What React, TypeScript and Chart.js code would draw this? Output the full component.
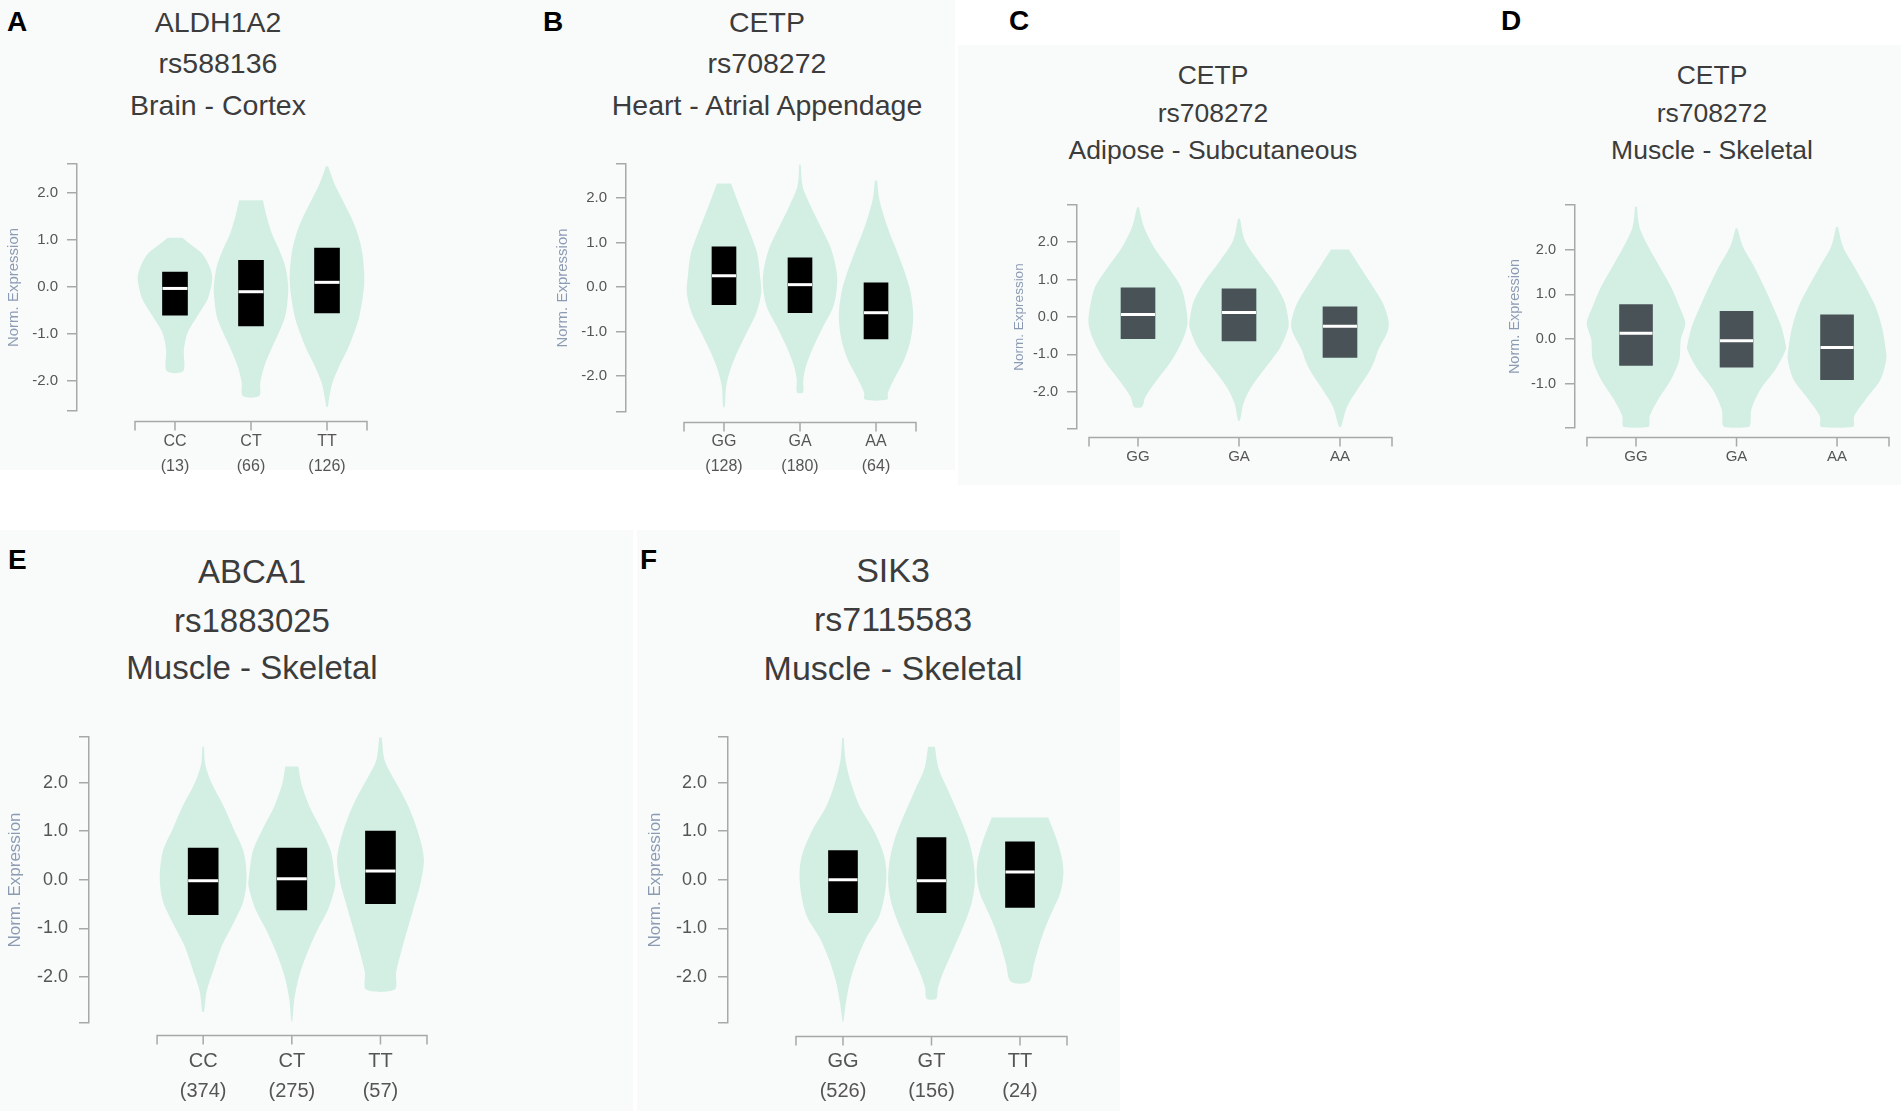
import React, { useEffect, useRef } from "react";
import { Chart, registerables } from "chart.js";

Chart.register(...registerables);

const FONT = "'Liberation Sans', Arial, Helvetica, sans-serif";
const VIOLIN_COLOR = "#d3efe4";
const AXIS_COLOR = "#a8a8a8";
const TICK_COLOR = "#555555";
const YTITLE_COLOR = "#8c9bb4";
const TITLE_COLOR = "#3c3c3c";
const PANEL_BG = "#f9fbfa";
const Y_TITLE = "Norm. Expression";

// ---------- Panel A ----------
const A_TITLE = ["ALDH1A2", "rs588136", "Brain - Cortex"];
const A_CATS = ["CC", "CT", "TT"];
const A_COUNTS = [13, 66, 126];
const A_Q1 = [-0.6, -0.83, -0.55];
const A_MED = [-0.03, -0.1, 0.1];
const A_Q3 = [0.32, 0.57, 0.83];
const A_Y_RANGE = [-2.64, 2.62];
const A_YTICKS = [-2, -1, 0, 1, 2];
// violin profiles: [expression value, relative density width]
const A_VIOLIN_CC = [[1.05, 0.2], [0.95, 0.35], [0.72, 0.72], [0.45, 0.92], [0.23, 1.0], [0.0, 0.97], [-0.27, 0.87], [-0.62, 0.6], [-0.97, 0.34], [-1.33, 0.24], [-1.79, 0.22]];
const A_VIOLIN_CT = [[1.85, 0.32], [1.5, 0.42], [1.14, 0.56], [0.79, 0.76], [0.44, 0.92], [0.0, 1.0], [-0.3, 0.98], [-0.62, 0.92], [-0.97, 0.75], [-1.33, 0.54], [-1.68, 0.36], [-2.03, 0.25], [-2.32, 0.22]];
const A_VIOLIN_TT = [[2.57, 0.03], [2.2, 0.2], [1.85, 0.42], [1.5, 0.64], [1.14, 0.82], [0.72, 0.95], [0.08, 1.0], [-0.62, 0.87], [-0.97, 0.73], [-1.33, 0.55], [-1.68, 0.33], [-2.03, 0.15], [-2.4, 0.05], [-2.55, 0.02]];

// ---------- Panel B ----------
const B_TITLE = ["CETP", "rs708272", "Heart - Atrial Appendage"];
const B_CATS = ["GG", "GA", "AA"];
const B_COUNTS = [128, 180, 64];
const B_Q1 = [-0.4, -0.58, -1.17];
const B_MED = [0.25, 0.05, -0.58];
const B_Q3 = [0.9, 0.65, 0.09];
const B_Y_RANGE = [-2.81, 2.76];
const B_YTICKS = [-2, -1, 0, 1, 2];
const B_VIOLIN_GG = [[2.32, 0.19], [1.96, 0.35], [1.59, 0.52], [1.21, 0.7], [0.76, 0.89], [0.24, 0.97], [-0.13, 1.0], [-0.58, 0.87], [-1.03, 0.61], [-1.48, 0.35], [-1.86, 0.17], [-2.23, 0.06], [-2.7, 0.02]];
const B_VIOLIN_GA = [[2.75, 0.02], [2.26, 0.07], [1.81, 0.29], [1.36, 0.55], [0.91, 0.81], [0.46, 0.96], [0.09, 1.0], [-0.43, 0.9], [-0.88, 0.63], [-1.33, 0.37], [-1.78, 0.16], [-2.08, 0.09], [-2.37, 0.08]];
const B_VIOLIN_AA = [[2.39, 0.03], [1.96, 0.09], [1.36, 0.3], [0.76, 0.58], [0.31, 0.78], [-0.13, 0.93], [-0.66, 1.0], [-1.18, 0.93], [-1.63, 0.76], [-2.08, 0.48], [-2.38, 0.32], [-2.53, 0.3]];

// ---------- Panel C ----------
const C_TITLE = ["CETP", "rs708272", "Adipose - Subcutaneous"];
const C_CATS = ["GG", "GA", "AA"];
const C_Q1 = [-0.58, -0.64, -1.08];
const C_MED = [0.07, 0.12, -0.25];
const C_Q3 = [0.78, 0.75, 0.27];
const C_Y_RANGE = [-2.99, 2.99];
const C_YTICKS = [-2, -1, 0, 1, 2];
const C_VIOLIN_GG = [[2.93, 0.02], [2.4, 0.12], [1.87, 0.32], [1.33, 0.61], [0.8, 0.87], [0.27, 0.97], [-0.18, 1.0], [-0.62, 0.9], [-1.16, 0.68], [-1.69, 0.38], [-2.13, 0.15], [-2.4, 0.08]];
const C_VIOLIN_GA = [[2.62, 0.02], [2.04, 0.12], [1.51, 0.38], [0.98, 0.68], [0.44, 0.91], [0.0, 0.99], [-0.27, 1.0], [-0.8, 0.84], [-1.33, 0.55], [-1.87, 0.25], [-2.31, 0.09], [-2.76, 0.02]];
const C_VIOLIN_AA = [[1.8, 0.18], [1.33, 0.41], [0.8, 0.67], [0.36, 0.87], [-0.09, 0.98], [-0.36, 0.97], [-0.89, 0.77], [-1.16, 0.7], [-1.51, 0.57], [-1.96, 0.34], [-2.4, 0.14], [-2.93, 0.02]];

// ---------- Panel D ----------
const D_TITLE = ["CETP", "rs708272", "Muscle - Skeletal"];
const D_CATS = ["GG", "GA", "AA"];
const D_Q1 = [-0.59, -0.63, -0.91];
const D_MED = [0.13, -0.04, -0.19];
const D_Q3 = [0.77, 0.62, 0.54];
const D_Y_RANGE = [-1.99, 3.0];
const D_YTICKS = [-1, 0, 1, 2];
const D_VIOLIN_GG = [[2.96, 0.02], [2.51, 0.07], [2.07, 0.25], [1.62, 0.48], [1.17, 0.71], [0.73, 0.88], [0.36, 1.0], [-0.01, 0.91], [-0.46, 0.88], [-0.91, 0.71], [-1.35, 0.45], [-1.72, 0.28], [-1.97, 0.25]];
const D_VIOLIN_GA = [[2.48, 0.02], [2.07, 0.13], [1.62, 0.36], [1.17, 0.56], [0.73, 0.74], [0.28, 0.91], [-0.09, 0.99], [-0.24, 1.0], [-0.68, 0.79], [-1.12, 0.49], [-1.58, 0.3], [-1.97, 0.25]];
const D_VIOLIN_AA = [[2.51, 0.02], [2.07, 0.12], [1.62, 0.35], [1.17, 0.58], [0.73, 0.78], [0.28, 0.91], [-0.24, 0.99], [-0.46, 1.0], [-0.91, 0.88], [-1.35, 0.58], [-1.72, 0.35], [-1.97, 0.32]];

// ---------- Panel E ----------
const E_TITLE = ["ABCA1", "rs1883025", "Muscle - Skeletal"];
const E_CATS = ["CC", "CT", "TT"];
const E_COUNTS = [374, 275, 57];
const E_Q1 = [-0.72, -0.62, -0.49];
const E_MED = [-0.02, 0.02, 0.18];
const E_Q3 = [0.65, 0.65, 1.0];
const E_Y_RANGE = [-2.95, 2.94];
const E_YTICKS = [-2, -1, 0, 1, 2];
const E_VIOLIN_CC = [[2.74, 0.02], [2.37, 0.05], [1.98, 0.2], [1.52, 0.47], [1.05, 0.7], [0.58, 0.93], [0.04, 1.0], [-0.43, 0.93], [-0.89, 0.7], [-1.36, 0.43], [-1.83, 0.25], [-2.3, 0.08], [-2.72, 0.02]];
const E_VIOLIN_CT = [[2.33, 0.15], [1.98, 0.22], [1.52, 0.4], [1.05, 0.67], [0.58, 0.9], [0.04, 0.99], [-0.12, 1.0], [-0.58, 0.85], [-1.05, 0.58], [-1.52, 0.35], [-1.98, 0.17], [-2.45, 0.06], [-2.92, 0.01]];
const E_VIOLIN_TT = [[2.93, 0.03], [2.45, 0.1], [1.98, 0.37], [1.52, 0.64], [0.97, 0.87], [0.43, 1.0], [-0.04, 0.93], [-0.5, 0.79], [-0.97, 0.64], [-1.44, 0.49], [-1.91, 0.36], [-2.26, 0.33]];

// ---------- Panel F ----------
const F_TITLE = ["SIK3", "rs7115583", "Muscle - Skeletal"];
const F_CATS = ["GG", "GT", "TT"];
const F_COUNTS = [526, 156, 24];
const F_Q1 = [-0.68, -0.68, -0.57];
const F_MED = [0.0, -0.02, 0.16];
const F_Q3 = [0.6, 0.87, 0.78];
const F_Y_RANGE = [-2.95, 2.94];
const F_YTICKS = [-2, -1, 0, 1, 2];
const F_VIOLIN_GG = [[2.92, 0.02], [2.45, 0.06], [1.98, 0.19], [1.52, 0.38], [1.05, 0.69], [0.58, 0.92], [0.19, 1.0], [-0.27, 0.97], [-0.74, 0.84], [-1.21, 0.53], [-1.67, 0.31], [-2.14, 0.15], [-2.53, 0.07], [-2.92, 0.01]];
const F_VIOLIN_GT = [[2.74, 0.08], [2.3, 0.16], [1.83, 0.39], [1.36, 0.62], [0.89, 0.83], [0.43, 0.96], [-0.04, 1.0], [-0.5, 0.92], [-0.97, 0.73], [-1.44, 0.5], [-1.91, 0.27], [-2.22, 0.15], [-2.45, 0.11]];
const F_VIOLIN_TT = [[1.28, 0.65], [0.82, 0.85], [0.43, 0.97], [0.12, 1.0], [-0.27, 0.93], [-0.66, 0.74], [-0.97, 0.59], [-1.36, 0.44], [-1.75, 0.32], [-2.1, 0.21]];

// ---------- layout (pixels) ----------
interface Layout {
  canvasLeft: number; canvasTop: number; canvasRight: number; canvasBottom: number;
  yAxisX: number; plotTop: number; plotBottom: number;
  xMin: number; xMax: number; axisStart: number; xGap: number;
  boxPx: number; tickSize: number; tickPad: number;
  xLabelSize: number; xLabelLH: number; xLabelPad: number; yTitleSize: number;
}
interface PanelDef {
  letter: string; letterX: number; letterY: number;
  title: string[]; titleX: number; titleYs: number[]; titleSize: number;
  cats: string[]; counts: number[] | null;
  q1: number[]; med: number[]; q3: number[];
  violins: number[][][];
  yRange: number[]; yTicks: number[];
  boxColor: string;
  L: Layout;
}

const PANELS: PanelDef[] = [
  {
    letter: "A", letterX: 7, letterY: 12, title: A_TITLE, titleX: 218, titleYs: [22, 63, 105], titleSize: 28.5,
    cats: A_CATS, counts: A_COUNTS, q1: A_Q1, med: A_MED, q3: A_Q3,
    violins: [A_VIOLIN_CC, A_VIOLIN_CT, A_VIOLIN_TT], yRange: A_Y_RANGE, yTicks: A_YTICKS, boxColor: "#000000",
    L: { canvasLeft: 2, canvasTop: 134, canvasRight: 371, canvasBottom: 492, yAxisX: 77, plotTop: 164, plotBottom: 411,
      xMin: -0.289, xMax: 3.526, axisStart: 0.474, xGap: 10, boxPx: 25, tickSize: 15, tickPad: 9,
      xLabelSize: 16, xLabelLH: 25, xLabelPad: 18.5, yTitleSize: 15 },
  },
  {
    letter: "B", letterX: 543, letterY: 12, title: B_TITLE, titleX: 767, titleYs: [22, 63, 105], titleSize: 28.5,
    cats: B_CATS, counts: B_COUNTS, q1: B_Q1, med: B_MED, q3: B_Q3,
    violins: [B_VIOLIN_GG, B_VIOLIN_GA, B_VIOLIN_AA], yRange: B_Y_RANGE, yTicks: B_YTICKS, boxColor: "#000000",
    L: { canvasLeft: 551, canvasTop: 134, canvasRight: 920, canvasBottom: 492, yAxisX: 626, plotTop: 164, plotBottom: 412,
      xMin: -0.289, xMax: 3.526, axisStart: 0.474, xGap: 10, boxPx: 24, tickSize: 15, tickPad: 9,
      xLabelSize: 16, xLabelLH: 25, xLabelPad: 17.5, yTitleSize: 15 },
  },
  {
    letter: "C", letterX: 1009, letterY: 11, title: C_TITLE, titleX: 1213, titleYs: [75, 113, 150], titleSize: 26.5,
    cats: C_CATS, counts: null, q1: C_Q1, med: C_MED, q3: C_Q3,
    violins: [C_VIOLIN_GG, C_VIOLIN_GA, C_VIOLIN_AA], yRange: C_Y_RANGE, yTicks: C_YTICKS, boxColor: "#495257",
    L: { canvasLeft: 1007, canvasTop: 175, canvasRight: 1396, canvasBottom: 482, yAxisX: 1077, plotTop: 205, plotBottom: 429,
      xMin: 0.396, xMax: 3.515, axisStart: 0.515, xGap: 8, boxPx: 34, tickSize: 14.5, tickPad: 9,
      xLabelSize: 15, xLabelLH: 18, xLabelPad: 19, yTitleSize: 13.5 },
  },
  {
    letter: "D", letterX: 1501, letterY: 11, title: D_TITLE, titleX: 1712, titleYs: [75, 113, 150], titleSize: 26.5,
    cats: D_CATS, counts: null, q1: D_Q1, med: D_MED, q3: D_Q3,
    violins: [D_VIOLIN_GG, D_VIOLIN_GA, D_VIOLIN_AA], yRange: D_Y_RANGE, yTicks: D_YTICKS, boxColor: "#495257",
    L: { canvasLeft: 1503, canvasTop: 175, canvasRight: 1893, canvasBottom: 482, yAxisX: 1575, plotTop: 205, plotBottom: 428,
      xMin: 0.393, xMax: 3.517, axisStart: 0.512, xGap: 9, boxPx: 33, tickSize: 14.5, tickPad: 9,
      xLabelSize: 15, xLabelLH: 18, xLabelPad: 20, yTitleSize: 14.5 },
  },
  {
    letter: "E", letterX: 8, letterY: 550, title: E_TITLE, titleX: 252, titleYs: [571, 620, 667], titleSize: 33,
    cats: E_CATS, counts: E_COUNTS, q1: E_Q1, med: E_MED, q3: E_Q3,
    violins: [E_VIOLIN_CC, E_VIOLIN_CT, E_VIOLIN_TT], yRange: E_Y_RANGE, yTicks: E_YTICKS, boxColor: "#000000",
    L: { canvasLeft: 3, canvasTop: 707, canvasRight: 431, canvasBottom: 1108, yAxisX: 89, plotTop: 737, plotBottom: 1023,
      xMin: -0.288, xMax: 3.525, axisStart: 0.48, xGap: 12, boxPx: 30, tickSize: 18, tickPad: 11,
      xLabelSize: 20, xLabelLH: 30, xLabelPad: 23, yTitleSize: 17 },
  },
  {
    letter: "F", letterX: 640, letterY: 550, title: F_TITLE, titleX: 893, titleYs: [570, 619, 668], titleSize: 34,
    cats: F_CATS, counts: F_COUNTS, q1: F_Q1, med: F_MED, q3: F_Q3,
    violins: [F_VIOLIN_GG, F_VIOLIN_GT, F_VIOLIN_TT], yRange: F_Y_RANGE, yTicks: F_YTICKS, boxColor: "#000000",
    L: { canvasLeft: 643, canvasTop: 707, canvasRight: 1071, canvasBottom: 1108, yAxisX: 728, plotTop: 737, plotBottom: 1023,
      xMin: -0.299, xMax: 3.531, axisStart: 0.469, xGap: 13, boxPx: 29, tickSize: 18, tickPad: 11,
      xLabelSize: 20, xLabelLH: 30, xLabelPad: 23, yTitleSize: 17 },
  },
];

const BG_RECTS = [
  [0, 0, 955, 470],
  [958, 45, 943, 440],
  [0, 530, 633, 581],
  [637, 530, 483, 581],
];

const VIOLIN_HALF = 0.49;

const xAxisLinePlugin = {
  id: "xAxisLine",
  afterDraw(chart: any, _args: any, opts: any) {
    const { ctx, chartArea } = chart;
    const x = chart.scales.x;
    const y0 = Math.round(chartArea.bottom + opts.gap) + 0.5;
    const xs = x.getPixelForValue(opts.start);
    const xe = x.getPixelForValue(opts.end);
    ctx.save();
    ctx.strokeStyle = AXIS_COLOR;
    ctx.lineWidth = 1.5;
    ctx.beginPath();
    ctx.moveTo(xs, y0 + opts.len);
    ctx.lineTo(xs, y0);
    ctx.lineTo(xe, y0);
    ctx.lineTo(xe, y0 + opts.len);
    for (const v of opts.ticks) {
      const px = x.getPixelForValue(v);
      ctx.moveTo(px, y0);
      ctx.lineTo(px, y0 + opts.len);
    }
    ctx.stroke();
    ctx.restore();
  },
};

function buildConfig(p: PanelDef): any {
  const L = p.L;
  const catIdx = p.cats.map((_, i) => i + 1);
  const datasets: any[] = [];
  p.violins.forEach((prof, i) => {
    const c = i + 1;
    const right = prof.map(([v, w]) => ({ x: c + w * VIOLIN_HALF, y: v }));
    const left = prof.slice().reverse().map(([v, w]) => ({ x: c - w * VIOLIN_HALF, y: v }));
    datasets.push({
      type: "scatter",
      data: [...right, ...left],
      showLine: true,
      fill: "shape",
      backgroundColor: VIOLIN_COLOR,
      borderColor: "rgba(0,0,0,0)",
      borderWidth: 0,
      pointRadius: 0,
      pointHoverRadius: 0,
      tension: 0.3,
      order: 3,
    });
  });
  datasets.push({
    type: "bar",
    data: catIdx.map((c, i) => ({ x: c, y: [p.q1[i], p.q3[i]] })),
    backgroundColor: p.boxColor,
    borderWidth: 0,
    barThickness: L.boxPx,
    order: 2,
  });
  datasets.push({
    type: "scatter",
    data: catIdx.map((c, i) => ({ x: c, y: p.med[i] })),
    pointStyle: "line",
    pointRadius: L.boxPx / 2,
    pointHoverRadius: L.boxPx / 2,
    pointBorderColor: "#ffffff",
    pointBorderWidth: 3,
    borderColor: "#ffffff",
    borderWidth: 3,
    showLine: false,
    order: 1,
  });

  const [yMin, yMax] = p.yRange;
  return {
    type: "scatter",
    data: { datasets },
    plugins: [xAxisLinePlugin],
    options: {
      responsive: false,
      animation: false,
      devicePixelRatio: 1,
      events: [],
      layout: { autoPadding: false, padding: { top: L.plotTop - L.canvasTop, right: 4, left: 0, bottom: 0 } },
      plugins: {
        legend: { display: false },
        tooltip: { enabled: false },
        title: { display: false },
        xAxisLine: { gap: L.xGap, start: L.axisStart, end: L.xMax, ticks: catIdx, len: 9 },
      },
      scales: {
        x: {
          type: "linear",
          min: L.xMin,
          max: L.xMax,
          offset: false,
          grid: { display: false, drawTicks: true, tickLength: L.xLabelPad - 2, offset: false },
          border: { display: false },
          afterBuildTicks: (s: any) => { s.ticks = catIdx.map((v) => ({ value: v })); },
          afterFit: (s: any) => { s.height = L.canvasBottom - L.plotBottom; },
          ticks: {
            autoSkip: false,
            maxRotation: 0,
            minRotation: 0,
            padding: 2,
            color: TICK_COLOR,
            font: { family: FONT, size: L.xLabelSize, lineHeight: L.xLabelLH / L.xLabelSize },
            callback: (_v: any, i: number) =>
              p.counts ? [p.cats[i], "(" + p.counts[i] + ")"] : p.cats[i],
          },
        },
        y: {
          type: "linear",
          min: yMin,
          max: yMax,
          afterBuildTicks: (s: any) => {
            s.ticks = [yMin, ...p.yTicks, yMax].map((v) => ({ value: v }));
          },
          afterFit: (s: any) => { s.width = L.yAxisX - L.canvasLeft; },
          grid: { display: true, drawOnChartArea: false, drawTicks: true, tickLength: 10, color: AXIS_COLOR, lineWidth: 1.5 },
          border: { display: true, color: AXIS_COLOR, width: 1.5 },
          ticks: {
            autoSkip: false,
            padding: L.tickPad,
            color: TICK_COLOR,
            font: { family: FONT, size: L.tickSize },
            callback: (v: any) => (p.yTicks.includes(Number(v)) ? Number(v).toFixed(1) : ""),
          },
          title: {
            display: true,
            text: Y_TITLE,
            color: YTITLE_COLOR,
            font: { family: FONT, size: L.yTitleSize },
            padding: { top: 12 - (L.yTitleSize * 1.2) / 2, bottom: 0 },
          },
        },
      },
    },
  };
}

function Panel({ p }: { p: PanelDef }) {
  const ref = useRef<HTMLCanvasElement>(null);
  const L = p.L;
  const w = L.canvasRight - L.canvasLeft;
  const h = L.canvasBottom - L.canvasTop;
  useEffect(() => {
    if (!ref.current) return;
    const chart = new Chart(ref.current, buildConfig(p));
    return () => chart.destroy();
  }, []);
  return (
    <>
      <div
        style={{
          position: "absolute", left: p.letterX, top: p.letterY - 4, fontFamily: FONT,
          fontWeight: "bold", fontSize: 28, lineHeight: "28px", color: "#000", whiteSpace: "nowrap",
        }}
      >
        {p.letter}
      </div>
      {p.title.map((t, i) => (
        <div
          key={i}
          style={{
            position: "absolute", left: p.titleX - 250, width: 500, textAlign: "center",
            top: p.titleYs[i] - p.titleSize / 2, fontFamily: FONT, fontSize: p.titleSize,
            lineHeight: p.titleSize + "px", color: TITLE_COLOR, whiteSpace: "nowrap",
          }}
        >
          {t}
        </div>
      ))}
      <canvas
        ref={ref}
        width={w}
        height={h}
        style={{ position: "absolute", left: L.canvasLeft, top: L.canvasTop, width: w, height: h }}
      />
    </>
  );
}

export default function App() {
  return (
    <div
      style={{
        position: "absolute", left: 0, top: 0, width: 1901, height: 1111,
        background: "#ffffff", overflow: "hidden", fontFamily: FONT,
      }}
    >
      {BG_RECTS.map((r, i) => (
        <div key={i} style={{ position: "absolute", left: r[0], top: r[1], width: r[2], height: r[3], background: PANEL_BG }} />
      ))}
      {PANELS.map((p) => (
        <Panel key={p.letter} p={p} />
      ))}
    </div>
  );
}
